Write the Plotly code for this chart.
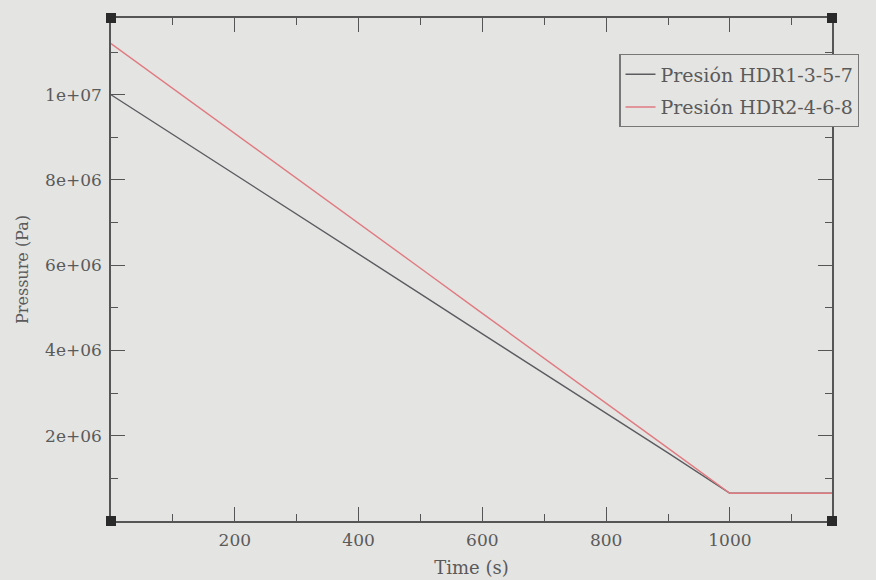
import plotly.graph_objects as go

# Pressure histories for the two header groups
time_s = [0, 100, 200, 300, 400, 500, 600, 700, 800, 900, 1000, 1165]
p_hdr_1357 = [1.0e7, 9.07e6, 8.13e6, 7.20e6, 6.26e6, 5.33e6, 4.39e6, 3.46e6,
              2.55e6, 1.60e6, 0.65e6, 0.65e6]
p_hdr_2468 = [1.12e7, 1.015e7, 9.09e6, 8.04e6, 6.98e6, 5.93e6, 4.87e6, 3.82e6,
              2.78e6, 1.71e6, 0.65e6, 0.65e6]

x_ticks = [200, 400, 600, 800, 1000]
y_ticks = [2e6, 4e6, 6e6, 8e6, 1e7]
y_tick_labels = ["2e+06", "4e+06", "6e+06", "8e+06", "1e+07"]

BG = "#e4e4e2"
AXIS = "#555555"
TEXT = "#5a5a5a"
FONT = "DejaVu Serif"

fig = go.Figure()
fig.add_trace(go.Scatter(x=time_s, y=p_hdr_1357, mode="lines",
                         name="Presión HDR1-3-5-7", legendgroup="a",
                         line=dict(color="#5b5b60", width=1.4)))
fig.add_trace(go.Scatter(x=time_s, y=p_hdr_2468, mode="lines",
                         name="Presión HDR2-4-6-8", legendgroup="b",
                         line=dict(color="#e07a80", width=1.4)))

axis_common = dict(showgrid=False, zeroline=False, showline=True,
                   linecolor=AXIS, linewidth=1.5, mirror="ticks",
                   ticks="inside", tickcolor=AXIS, tickwidth=1.2, ticklen=14,
                   automargin=False,
                   tickfont=dict(family=FONT, size=17, color=TEXT))

fig.update_xaxes(range=[0, 1165], tickvals=x_ticks, ticklabelstandoff=3,
                 minor=dict(ticks="inside", ticklen=7, dtick=100, tick0=0,
                            tickcolor=AXIS, tickwidth=1.2),
                 title=dict(text="Time (s)", standoff=12,
                            font=dict(family=FONT, size=18, color=TEXT)),
                 **axis_common)
fig.update_yaxes(range=[0, 1.18e7], tickvals=y_ticks, ticktext=y_tick_labels,
                 ticklabelstandoff=4,
                 minor=dict(ticks="inside", ticklen=7, dtick=1e6, tick0=0,
                            tickcolor=AXIS, tickwidth=1.2),
                 title=dict(text="Pressure (Pa)", standoff=12,
                            font=dict(family=FONT, size=16, color=TEXT)),
                 **axis_common)

# Square markers at the four corners of the frame
for cx in (0, 1):
    for cy in (0, 1):
        fig.add_shape(type="rect", xref="x domain", yref="y domain",
                      xsizemode="pixel", ysizemode="pixel",
                      xanchor=cx, yanchor=cy, x0=-5, x1=5, y0=-5, y1=5,
                      fillcolor="#2a2a2a", line=dict(width=0))

fig.update_layout(
    width=876, height=580,
    margin=dict(l=111, r=44, t=18, b=59),
    paper_bgcolor=BG, plot_bgcolor=BG,
    showlegend=True,
    legend=dict(x=0.705, y=0.928, xanchor="left", yanchor="top",
                bgcolor=BG, bordercolor="#777777", borderwidth=1.2,
                tracegroupgap=5,
                font=dict(family=FONT, size=19, color=TEXT)),
)

fig.write_html("out.html")
